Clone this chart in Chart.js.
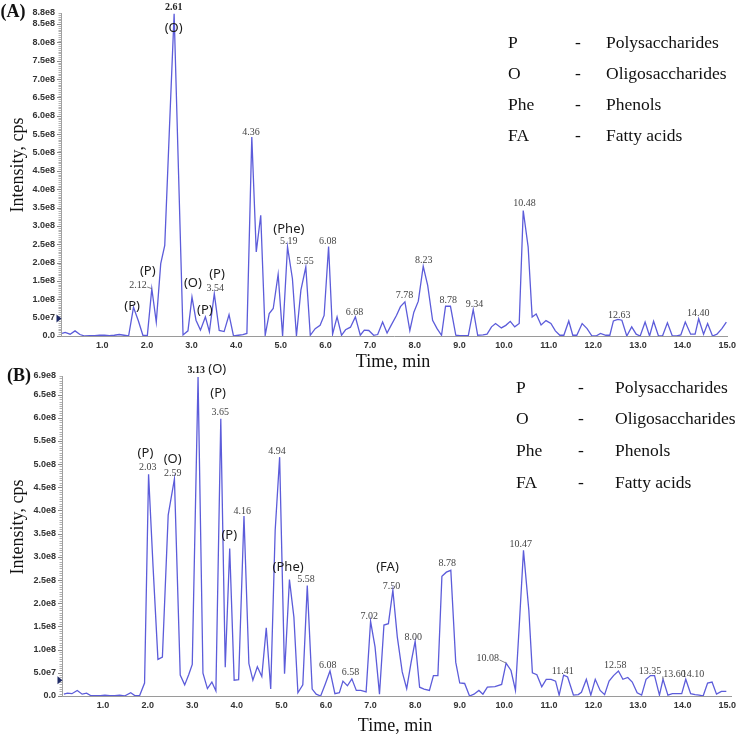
<!DOCTYPE html>
<html><head><meta charset="utf-8">
<script src="https://cdn.jsdelivr.net/npm/chart.js@4"></script>
<style>
html,body{margin:0;padding:0;background:#fff;overflow:hidden;width:736px;height:737px;}
#wrapA{position:absolute;left:0;top:0;width:740px;height:372px;}
#wrapB{position:absolute;left:0;top:362px;width:740px;height:375px;}
</style></head><body>
<div id="wrapA"><canvas id="chartA"></canvas></div>
<div id="wrapB"><canvas id="chartB"></canvas></div>
<script>
// ---------- DATA (intensity in units of 1e8 cps) ----------
const timeA = [0.10,0.17,0.28,0.39,0.50,0.61,0.72,0.83,0.94,1.05,1.16,1.27,1.38,1.49,1.59,1.70,1.81,1.91,2.01,2.11,2.21,2.31,2.40,2.50,2.61,2.71,2.81,2.92,3.01,3.10,3.20,3.31,3.40,3.51,3.62,3.73,3.84,3.94,4.05,4.15,4.24,4.35,4.45,4.55,4.65,4.74,4.83,4.94,5.04,5.15,5.26,5.35,5.45,5.56,5.66,5.77,5.88,5.97,6.07,6.16,6.26,6.36,6.45,6.56,6.67,6.78,6.87,6.97,7.08,7.17,7.28,7.38,7.47,7.59,7.68,7.78,7.89,7.98,8.08,8.19,8.29,8.40,8.50,8.60,8.69,8.80,8.92,9.01,9.11,9.20,9.31,9.41,9.53,9.62,9.72,9.81,9.94,10.04,10.14,10.24,10.34,10.43,10.54,10.63,10.72,10.83,10.94,11.05,11.15,11.25,11.34,11.45,11.54,11.63,11.75,11.86,11.97,12.06,12.16,12.28,12.37,12.45,12.55,12.64,12.75,12.86,12.96,13.05,13.16,13.26,13.35,13.46,13.55,13.66,13.77,13.87,13.96,14.06,14.18,14.28,14.36,14.47,14.56,14.67,14.77,14.88,14.98];
const intensityA = [0.07,0.10,0.05,0.14,0.04,0.00,0.01,0.01,0.02,0.02,0.01,0.02,0.04,0.02,0.00,0.78,0.41,0.02,0.01,1.29,0.38,1.97,2.47,5.50,8.78,4.40,0.03,0.14,1.06,0.43,0.16,0.52,0.12,1.15,0.15,0.12,0.58,0.00,0.02,0.04,0.07,5.42,2.29,3.29,0.02,0.61,0.75,1.68,0.00,2.43,1.56,0.00,1.25,1.88,0.02,0.20,0.29,0.56,2.44,0.05,0.52,0.02,0.17,0.24,0.52,0.02,0.16,0.15,0.02,0.04,0.38,0.08,0.29,0.56,0.80,0.93,0.15,0.65,0.95,1.90,1.38,0.43,0.20,0.02,0.81,0.81,0.02,0.01,0.01,0.01,0.72,0.02,0.03,0.05,0.25,0.34,0.22,0.29,0.40,0.25,0.34,3.42,2.43,0.52,0.60,0.30,0.42,0.34,0.14,0.02,0.02,0.41,0.02,0.02,0.34,0.20,0.00,0.00,0.07,0.02,0.02,0.41,0.45,0.43,0.00,0.25,0.05,0.00,0.38,0.00,0.40,0.00,0.00,0.36,0.00,0.00,0.03,0.38,0.05,0.05,0.47,0.05,0.34,0.00,0.05,0.20,0.38];

const timeB = [0.12,0.20,0.30,0.42,0.53,0.63,0.72,0.83,0.94,1.04,1.15,1.26,1.37,1.48,1.62,1.71,1.82,1.93,2.02,2.12,2.23,2.33,2.46,2.60,2.73,2.83,2.92,3.00,3.13,3.24,3.34,3.44,3.53,3.64,3.74,3.84,3.94,4.04,4.16,4.27,4.36,4.46,4.56,4.66,4.76,4.86,4.96,5.07,5.18,5.28,5.37,5.48,5.58,5.69,5.78,5.88,5.98,6.09,6.20,6.30,6.38,6.48,6.58,6.68,6.78,6.90,7.00,7.10,7.20,7.30,7.40,7.50,7.60,7.71,7.81,7.91,8.00,8.10,8.20,8.32,8.41,8.51,8.60,8.70,8.80,8.91,9.00,9.11,9.22,9.32,9.43,9.52,9.62,9.79,9.94,10.04,10.15,10.25,10.34,10.43,10.55,10.63,10.73,10.84,10.94,11.05,11.15,11.23,11.33,11.42,11.55,11.66,11.73,11.84,11.94,12.04,12.15,12.25,12.35,12.45,12.56,12.66,12.77,12.87,12.98,13.08,13.18,13.28,13.37,13.48,13.56,13.67,13.77,13.88,13.98,14.07,14.18,14.28,14.37,14.46,14.56,14.66,14.76,14.87,14.98];
const intensityB = [0.04,0.06,0.05,0.12,0.04,0.06,0.01,0.01,0.01,0.02,0.01,0.01,0.02,0.00,0.07,0.01,0.01,0.28,4.78,2.80,0.79,0.84,3.90,4.68,0.45,0.24,0.46,0.68,6.88,0.49,0.16,0.30,0.11,5.98,0.62,3.18,0.34,0.35,3.88,0.70,0.34,0.63,0.42,1.47,0.15,3.57,5.15,0.48,2.51,1.70,0.07,0.24,2.38,0.15,0.04,0.00,0.25,0.54,0.05,0.07,0.32,0.22,0.37,0.12,0.12,0.09,1.61,1.06,0.04,1.53,1.56,2.28,1.27,0.52,0.16,0.73,1.18,0.19,0.15,0.12,0.44,0.44,2.58,2.67,2.71,0.73,0.28,0.27,0.00,0.04,0.12,0.04,0.19,0.20,0.25,0.71,0.55,0.12,1.60,3.14,1.85,0.50,0.46,0.20,0.36,0.36,0.32,0.02,0.45,0.41,0.02,0.03,0.08,0.36,0.02,0.36,0.12,0.03,0.32,0.44,0.54,0.36,0.40,0.30,0.07,0.02,0.36,0.44,0.44,0.02,0.36,0.02,0.05,0.05,0.05,0.36,0.05,0.03,0.02,0.00,0.28,0.30,0.04,0.10,0.10];

const xTicks = [1,2,3,4,5,6,7,8,9,10,11,12,13,14,15];
const yTicksA = [0,0.5,1.0,1.5,2.0,2.5,3.0,3.5,4.0,4.5,5.0,5.5,6.0,6.5,7.0,7.5,8.0,8.5,8.8];
const yTicksB = [0,0.5,1.0,1.5,2.0,2.5,3.0,3.5,4.0,4.5,5.0,5.5,6.0,6.5,6.9];

// peak retention-time labels: text, anchor time, anchor level (1e8)
const peakTextA  = ["2.61","4.36","5.19","5.55","6.08","6.68","7.78","8.23","8.78","9.34","10.48","12.63","14.40","2.12","3.54"];
const peakTimeA  = [2.60,4.33,5.18,5.54,6.05,6.65,7.77,8.20,8.75,9.34,10.46,12.58,14.35,1.80,3.53];
const peakLevelA = [8.96,5.56,2.59,2.04,2.59,0.65,1.12,2.07,0.96,0.87,3.60,0.57,0.63,1.39,1.31];
const tagTextA   = ["(O)","(Phe)","(P)","(P)","(O)","(P)","(P)"];
const tagTimeA   = [2.60,5.18,1.67,2.02,3.03,3.30,3.57];
const tagLevelA  = [8.39,2.92,0.82,1.77,1.44,0.71,1.69];
// leader lines: label text -> peak apex (time, level)
const leaderTextA  = ["2.12"];
const leaderTimeA  = [2.11];
const leaderLevelA = [1.29];

const peakTextB  = ["2.03","2.59","3.13","3.65","4.16","4.94","5.58","6.08","6.58","7.02","7.50","8.00","8.78","10.08","10.47","11.41","12.58","13.35","13.60","14.10"];
const peakTimeB  = [2.00,2.56,3.09,3.63,4.12,4.90,5.55,6.04,6.55,6.97,7.47,7.96,8.72,9.63,10.37,11.31,12.49,13.27,13.82,14.23];
const peakLevelB = [4.94,4.79,7.03,6.12,3.99,5.28,2.52,0.67,0.50,1.72,2.37,1.27,2.85,0.82,3.26,0.54,0.65,0.54,0.47,0.47];
const tagTextB   = ["(P)","(O)","(O)","(P)","(P)","(Phe)","(FA)"];
const tagTimeB   = [1.95,2.56,3.56,3.58,3.83,5.15,7.38];
const tagLevelB  = [5.24,5.11,7.05,6.53,3.47,2.78,2.78];
const leaderTextB  = ["10.08","13.60"];
const leaderTimeB  = [10.04,13.56];
const leaderLevelB = [0.71,0.36];

const legendCodes = ["P","O","Phe","FA"];
const legendNames = ["Polysaccharides","Oligosaccharides","Phenols","Fatty acids"];

const xTitle = "Time, min";
const yTitle = "Intensity, cps";

// ---------- drawing ----------
const E8 = 1e8;
const decorPlugin = {
  id: 'decor',
  afterDraw(chart, args, o) {
    const ctx = chart.ctx, xs = chart.scales.x, ys = chart.scales.y, ca = chart.chartArea;
    ctx.save();
    // minor ticks on y axis
    const n = Math.round(o.yMax / 0.05);
    for (let i = 0; i <= n; i++) {
      const y = Math.round(ys.getPixelForValue(i * 0.05 * E8)) + 0.5;
      const major = i % 10 === 0;
      ctx.strokeStyle = major ? '#8a8a8a' : '#b0b0b0';
      ctx.lineWidth = 1;
      ctx.beginPath();
      ctx.moveTo(ca.left - (major ? 4 : 2.5), y);
      ctx.lineTo(ca.left, y);
      ctx.stroke();
    }
    // threshold marker
    const my = ys.getPixelForValue(o.marker * E8);
    ctx.fillStyle = '#1f2a66';
    ctx.beginPath();
    ctx.moveTo(ca.left - 4.5, my - 4);
    ctx.lineTo(ca.left + 0.5, my);
    ctx.lineTo(ca.left - 4.5, my + 4);
    ctx.closePath();
    ctx.fill();
    // peak labels
    ctx.textAlign = 'center';
    ctx.textBaseline = 'middle';
    o.peakText.forEach((t, i) => {
      const bold = o.boldPeaks.includes(t);
      ctx.font = (bold ? 'bold 10px ' : '10px ') + '"Liberation Serif", serif';
      ctx.fillStyle = bold ? '#222' : '#444';
      const px = xs.getPixelForValue(o.peakTime[i]), py = ys.getPixelForValue(o.peakLevel[i] * E8);
      ctx.fillText(t, px, py);
      const li = o.leaderText.indexOf(t);
      if (li >= 0) {
        const tx = xs.getPixelForValue(o.leaderTime[li]), ty = ys.getPixelForValue(o.leaderLevel[li] * E8);
        const hw = ctx.measureText(t).width / 2 + 0.5;
        const sx = tx > px ? px + hw : px - hw;
        ctx.strokeStyle = '#666';
        ctx.lineWidth = 0.8;
        ctx.beginPath();
        ctx.moveTo(sx, py + 2);
        ctx.lineTo(tx, ty);
        ctx.stroke();
      }
    });
    // class tags
    ctx.font = '13px "Noto Sans", sans-serif';
    ctx.fillStyle = '#1a1a1a';
    o.tagText.forEach((t, i) => {
      ctx.fillText(t, xs.getPixelForValue(o.tagTime[i]), ys.getPixelForValue(o.tagLevel[i] * E8));
    });
    // legend
    ctx.font = '17.5px "Liberation Serif", serif';
    ctx.fillStyle = '#111';
    ctx.textAlign = 'left';
    legendCodes.forEach((c, i) => {
      const y = o.legend.y0 + i * o.legend.dy;
      ctx.fillText(c, o.legend.x1, y);
      ctx.fillText('-', o.legend.x2, y);
      ctx.fillText(legendNames[i], o.legend.x3, y);
    });
    // axis titles
    ctx.font = '18px "Liberation Serif", serif';
    ctx.fillStyle = '#111';
    ctx.textAlign = 'center';
    ctx.fillText(xTitle, o.xTitlePos[0], o.xTitlePos[1]);
    ctx.save();
    ctx.translate(o.yTitlePos[0], o.yTitlePos[1]);
    ctx.rotate(-Math.PI / 2);
    ctx.fillText(yTitle, 0, 0);
    ctx.restore();
    // panel letter
    ctx.font = 'bold 18px "Liberation Serif", serif';
    ctx.fillText(o.panel, o.panelPos[0], o.panelPos[1]);
    ctx.restore();
  }
};

function makeChart(id, times, vals, yTicks, cfg) {
  const yMax = yTicks[yTicks.length - 1];
  return new Chart(document.getElementById(id), {
    type: 'line',
    data: {
      datasets: [{
        data: times.map((t, i) => ({x: t, y: vals[i] * E8})),
        borderColor: 'rgb(92,92,218)',
        borderWidth: 1.3,
        pointRadius: 0,
        tension: 0,
        fill: false
      }]
    },
    options: {
      responsive: true,
      maintainAspectRatio: false,
      animation: false,
      events: [],
      layout: {padding: cfg.padding},
      plugins: {
        legend: {display: false},
        tooltip: {enabled: false},
        decor: Object.assign({yMax: yMax}, cfg.decor)
      },
      scales: {
        x: {
          type: 'linear',
          min: cfg.xMin, max: cfg.xMax,
          afterBuildTicks: s => { s.ticks = xTicks.map(v => ({value: v})); },
          afterFit: s => { s.height = cfg.xHeight; },
          grid: {display: false, drawTicks: false},
          border: {display: true, color: '#9a9a9a', width: 1},
          ticks: {
            autoSkip: false, maxRotation: 0, padding: 4,
            color: '#333',
            font: {family: '"Liberation Sans", Arial, sans-serif', size: 9, weight: 'bold'},
            callback: v => Number(v).toFixed(1)
          }
        },
        y: {
          type: 'linear',
          min: 0, max: yMax * E8,
          afterBuildTicks: s => { s.ticks = yTicks.map(v => ({value: v * E8})); },
          afterFit: s => { s.width = cfg.yWidth; },
          grid: {display: false, drawTicks: false},
          border: {display: true, color: '#a0a0a0', width: 1},
          ticks: {
            autoSkip: false, padding: 6,
            color: '#333',
            font: {family: '"Liberation Sans", Arial, sans-serif', size: 9, weight: 'bold'},
            callback: v => v === 0 ? '0.0' : Number(v).toExponential(1).replace('e+', 'e')
          }
        }
      }
    },
    plugins: [decorPlugin]
  });
}

makeChart('chartA', timeA, intensityA, yTicksA, {
  padding: {top: 13, right: 12, bottom: 0, left: 0},
  xMin: 0.076, xMax: 15.0, xHeight: 36, yWidth: 61,
  decor: {
    marker: 0.48,
    peakText: peakTextA, peakTime: peakTimeA, peakLevel: peakLevelA, boldPeaks: ["2.61"],
    leaderText: leaderTextA, leaderTime: leaderTimeA, leaderLevel: leaderLevelA,
    tagText: tagTextA, tagTime: tagTimeA, tagLevel: tagLevelA,
    legend: {x1: 508, x2: 575, x3: 606, y0: 43, dy: 31},
    xTitlePos: [393, 362], yTitlePos: [18, 165],
    panel: '(A)', panelPos: [13, 12]
  }
});

makeChart('chartB', timeB, intensityB, yTicksB, {
  padding: {top: 14, right: 5, bottom: 0, left: 0},
  xMin: 0.078, xMax: 15.1, xHeight: 41, yWidth: 62,
  decor: {
    marker: 0.34,
    peakText: peakTextB, peakTime: peakTimeB, peakLevel: peakLevelB, boldPeaks: ["3.13"],
    leaderText: leaderTextB, leaderTime: leaderTimeB, leaderLevel: leaderLevelB,
    tagText: tagTextB, tagTime: tagTimeB, tagLevel: tagLevelB,
    legend: {x1: 516, x2: 578, x3: 615, y0: 26, dy: 31.7},
    xTitlePos: [395, 364], yTitlePos: [18, 165],
    panel: '(B)', panelPos: [19, 14]
  }
});
</script>
</body></html>
